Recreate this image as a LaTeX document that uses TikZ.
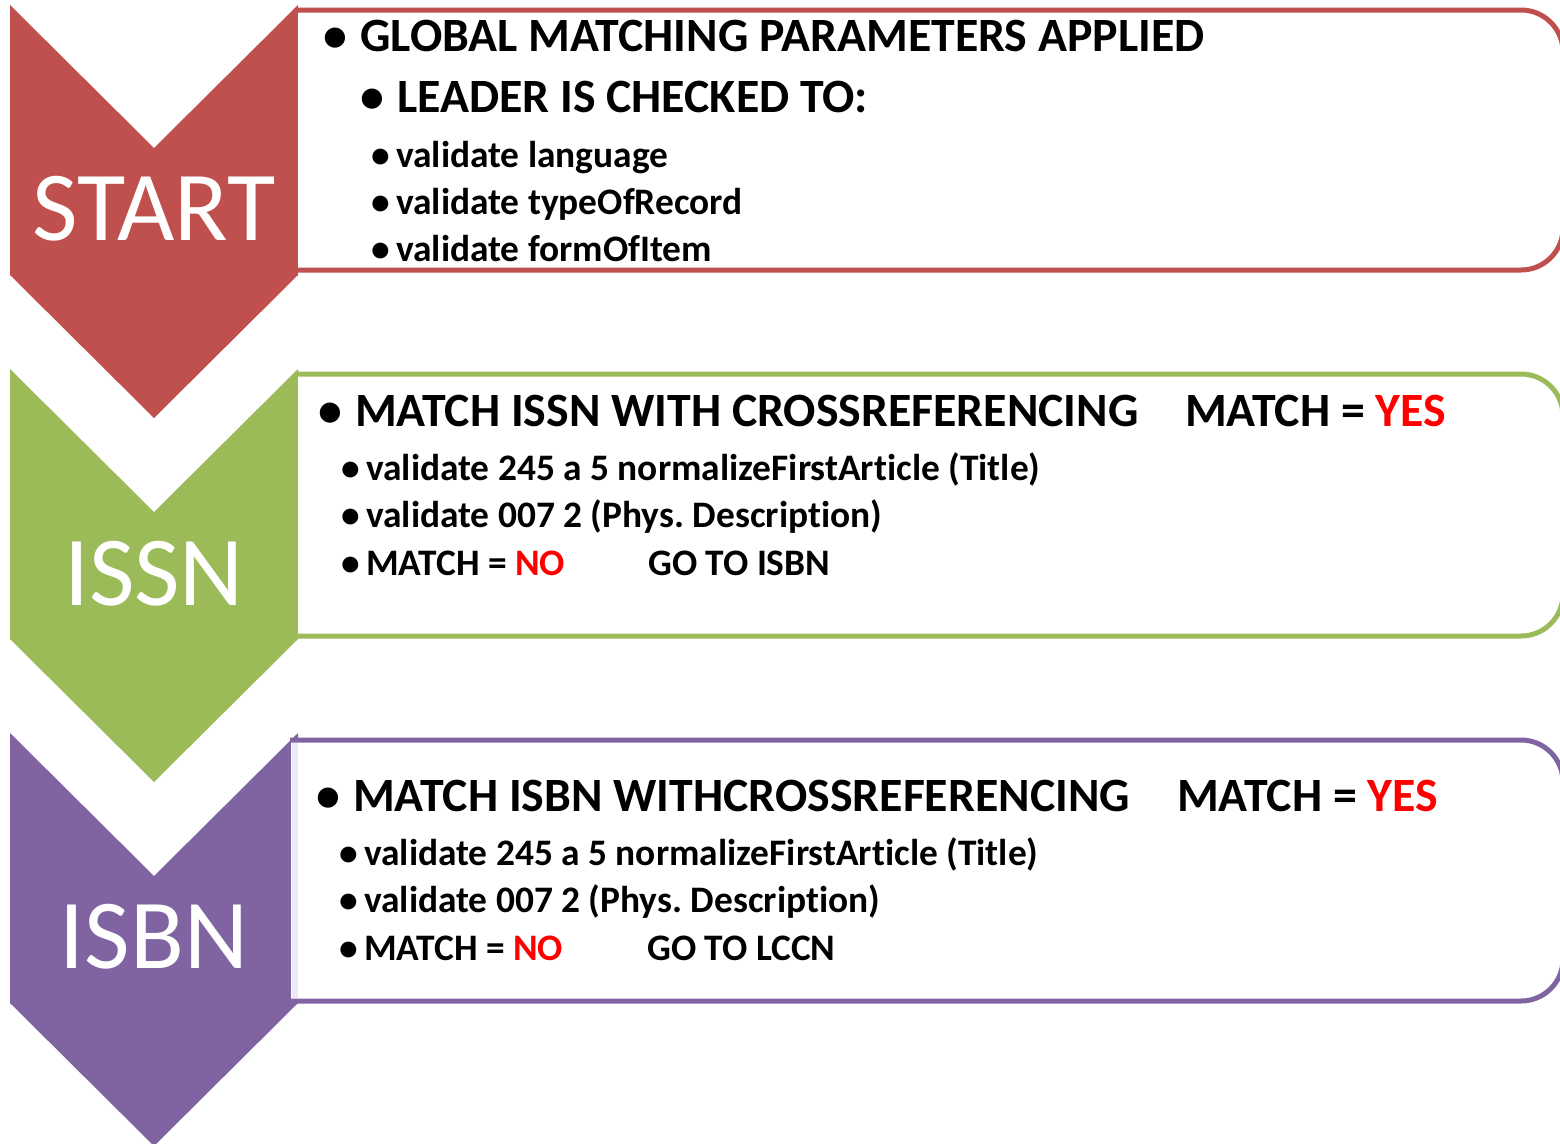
\documentclass[tikz,border=0pt]{standalone}
\usepackage{fontspec}
\setmainfont{Carlito}[RawFeature={-liga;-clig}]
\usepackage{xcolor}
\frenchspacing

\definecolor{stagered}{HTML}{C0504D}
\definecolor{stagegreen}{HTML}{9BBB59}
\definecolor{stagepurple}{HTML}{8064A2}
\definecolor{stagelav}{HTML}{EEEAF3}

\tikzset{
  stage/.style={text=white, font=\fontsize{99}{112}\selectfont, anchor=base, inner sep=0pt},
  frame/.style={line width=5pt, rounded corners=42pt, fill=white},
  itemone/.style={font=\bfseries\fontsize{47.8}{56}\selectfont, anchor=base west, inner sep=0pt,
    execute at begin node={\llap{\textbullet\hspace{13pt}}}},
  itemtwo/.style={font=\bfseries\fontsize{37.4}{44}\selectfont, anchor=base west, inner sep=0pt,
    execute at begin node={\llap{\textbullet\hspace{6pt}}}},
  tabone/.style={font=\bfseries\fontsize{47.8}{56}\selectfont, anchor=base west, inner sep=0pt},
  tabtwo/.style={font=\bfseries\fontsize{37.4}{44}\selectfont, anchor=base west, inner sep=0pt}
}

\begin{document}
\begin{tikzpicture}[x=1pt,y=-1pt]
	\useasboundingbox (0,0) rectangle (1560,1143);
	\clip (0,0) rectangle (1560,1143);

	% chevrons
	\fill [stagered] (10,5) -- (154,148) -- (298,5) -- (298,275) -- (154,418) -- (10,275) -- cycle;
	\fill [stagegreen] (10,369) -- (154,512) -- (298,369) -- (298,639) -- (154,782) -- (10,639) -- cycle;
	\fill [stagepurple] (10,733) -- (154,876) -- (298,733) -- (298,1003) -- (154,1146) -- (10,1003) -- cycle;
	\node [stage] (start) at (154,240) {START};
	\node [stage] (issn) at (154,605) {ISSN};
	\node [stage] (isbn) at (154,968) {ISBN};

	% boxes
	\draw [frame, draw=stagered] (298,10) -- (1563,10) -- (1563,270) -- (298,270);
	\draw [frame, draw=stagegreen] (298,374) -- (1563,374) -- (1563,636) -- (298,636);
	\draw [frame, draw=stagepurple] (290,740) -- (1563,740) -- (1563,1001) -- (290,1001);
	\fill [stagelav] (291.5,743) rectangle (298,998);
	\draw [stagepurple, line width=1.5pt] (290.5,740) -- (290.5,1001);

	% start
	\node [itemone] (global) at (360,51) {GLOBAL MATCHING PARAMETERS APPLIED};
	\node [itemone] (leader) at (397,112) {LEADER IS CHECKED TO:};
	\node [itemtwo] (lang) at (396,167) {validate language};
	\node [itemtwo] (type) at (396,214) {validate typeOfRecord};
	\node [itemtwo] (form) at (396,261) {validate formOfItem};

	% issn
	\node [itemone] (issnmatch) at (355,426) {MATCH ISSN WITH CROSSREFERENCING};
	\node [tabone] (issnyes) at (1185,426) {MATCH = \textcolor{red}{YES}};
	\node [itemtwo] (issntitle) at (366,480) {validate 245 a 5 normalizeFirstArticle (Title)};
	\node [itemtwo] (issnphys) at (366,527) {validate 007 2 (Phys. Description)};
	\node [itemtwo] (issnno) at (366,575) {MATCH = \textcolor{red}{NO}};
	\node [tabtwo] (issngo) at (648,575) {GO TO ISBN};

	% isbn
	\node [itemone] (isbnmatch) at (353,811) {MATCH ISBN WITHCROSSREFERENCING};
	\node [tabone] (isbnyes) at (1177,811) {MATCH = \textcolor{red}{YES}};
	\node [itemtwo] (isbntitle) at (364,865) {validate 245 a 5 normalizeFirstArticle (Title)};
	\node [itemtwo] (isbnphys) at (364,912) {validate 007 2 (Phys. Description)};
	\node [itemtwo] (isbnno) at (364,960) {MATCH = \textcolor{red}{NO}};
	\node [tabtwo] (isbngo) at (647,960) {GO TO LCCN};
\end{tikzpicture}
\end{document}
